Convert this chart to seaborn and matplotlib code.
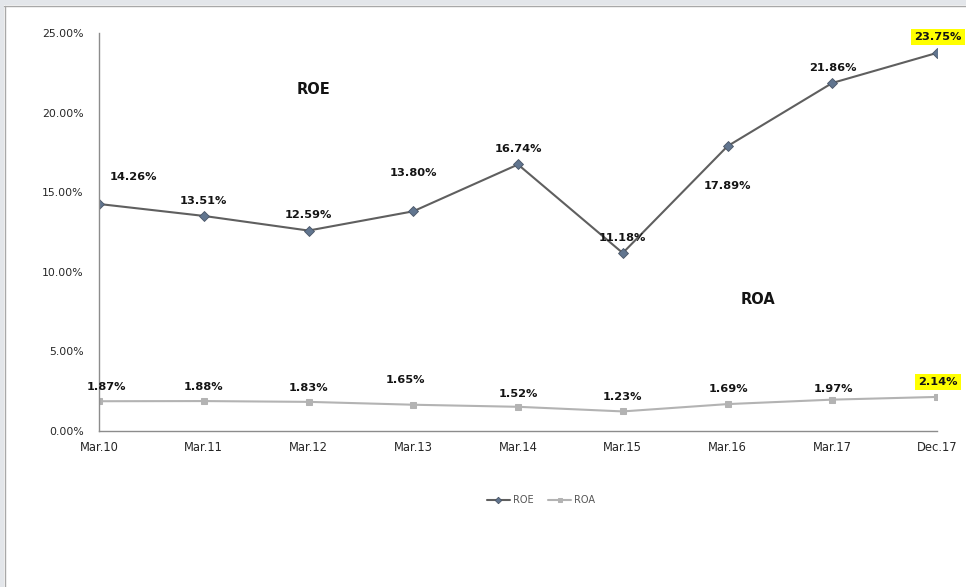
import matplotlib
matplotlib.use("Agg")
import matplotlib.pyplot as plt
from matplotlib.patches import Rectangle
import seaborn as sns
import pandas as pd

periods = ["Mar.10", "Mar.11", "Mar.12", "Mar.13", "Mar.14",
           "Mar.15", "Mar.16", "Mar.17", "Dec.17"]
roe = [14.26, 13.51, 12.59, 13.80, 16.74, 11.18, 17.89, 21.86, 23.75]
roa = [1.87, 1.88, 1.83, 1.65, 1.52, 1.23, 1.69, 1.97, 2.14]
y_ticks = [0, 5, 10, 15, 20, 25]

sns.set_style("white")
plt.rcParams["font.family"] = ["DejaVu Sans"]

df = pd.DataFrame({"period": periods, "ROE": roe, "ROA": roa})

fig = plt.figure(figsize=(9.66, 5.87), dpi=100)
ax = fig.add_axes([99 / 966, 1 - 431 / 587, (937 - 99) / 966, (431 - 33) / 587])

sns.lineplot(data=df, x="period", y="ROE", ax=ax, color="#5f5f5f", lw=1.5,
             marker="D", markersize=5.5, markerfacecolor="#61758f",
             markeredgecolor="#4a5566", markeredgewidth=0.6, label="ROE",
             sort=False)
sns.lineplot(data=df, x="period", y="ROA", ax=ax, color="#b3b3b3", lw=1.5,
             marker="s", markersize=5, markerfacecolor="#b3b3b3",
             markeredgecolor="#b3b3b3", label="ROA", sort=False)

ax.set_xlim(0, len(periods) - 1)
ax.set_ylim(0, 25)
ax.set_yticks(y_ticks)
ax.set_yticklabels([f"{v:.2f}%" for v in y_ticks])
ax.set_xlabel("")
ax.set_ylabel("")

for side in ("top", "right"):
    ax.spines[side].set_visible(False)
for side in ("left", "bottom"):
    ax.spines[side].set_color("#8c8c8c")
    ax.spines[side].set_linewidth(1.0)
ax.tick_params(axis="both", which="both", direction="out", color="#8c8c8c",
               labelcolor="#262626", width=1.0)
ax.tick_params(axis="y", length=5, pad=6, labelsize=7.8)
ax.tick_params(axis="x", length=4, pad=3, labelsize=8.3)
ax.grid(False)

# value labels: offsets in pixels from each point
roe_off = [(34, 27), (0, 15), (0, 16), (0, 38), (0, 15), (0, 15), (0, -40), (1, 15), (1, 16)]
roa_off = [(7, 14), (0, 14), (0, 14), (-8, 25), (0, 13), (0, 14), (1, 15), (1, 11), (1, 15)]
for series, offsets in ((roe, roe_off), (roa, roa_off)):
    for i, (v, off) in enumerate(zip(series, offsets)):
        hl = i == len(series) - 1
        ax.annotate(f"{v:.2f}%", (i, v), xytext=off, textcoords="offset pixels",
                    ha="center", va="center", fontsize=8.2, fontweight="bold",
                    color="#141414", annotation_clip=False,
                    bbox=dict(boxstyle="square,pad=0.25", fc="#ffff00", ec="none") if hl else None)

ax.text(2.05, 21.48, "ROE", ha="center", va="center", fontsize=10.5,
        fontweight="bold", color="#141414")
ax.text(6.29, 8.23, "ROA", ha="center", va="center", fontsize=10.5,
        fontweight="bold", color="#141414")

leg = ax.legend(loc="center", bbox_to_anchor=(541 / 966, 1 - 500 / 587),
                bbox_transform=fig.transFigure, ncol=2, frameon=False,
                fontsize=7, handlelength=2.4, columnspacing=1.5,
                handletextpad=0.3, markerscale=0.6)
for t in leg.get_texts():
    t.set_color("#555555")

# window frame along the top and left edges
fig.patches.append(Rectangle((0, 1 - 5 / 587), 1, 5 / 587, transform=fig.transFigure,
                             fc="#e3e6ea", ec="none", zorder=0))
fig.patches.append(Rectangle((0, 0), 4 / 966, 1, transform=fig.transFigure,
                             fc="#e3e6ea", ec="none", zorder=0))
fig.add_artist(plt.Line2D([4 / 966, 1], [1 - 5.5 / 587, 1 - 5.5 / 587],
                          transform=fig.transFigure, color="#a8a8a8", lw=1))
fig.add_artist(plt.Line2D([4.5 / 966, 4.5 / 966], [0, 1 - 5.5 / 587],
                          transform=fig.transFigure, color="#a8a8a8", lw=1))

fig.savefig("out.png", dpi=100)
